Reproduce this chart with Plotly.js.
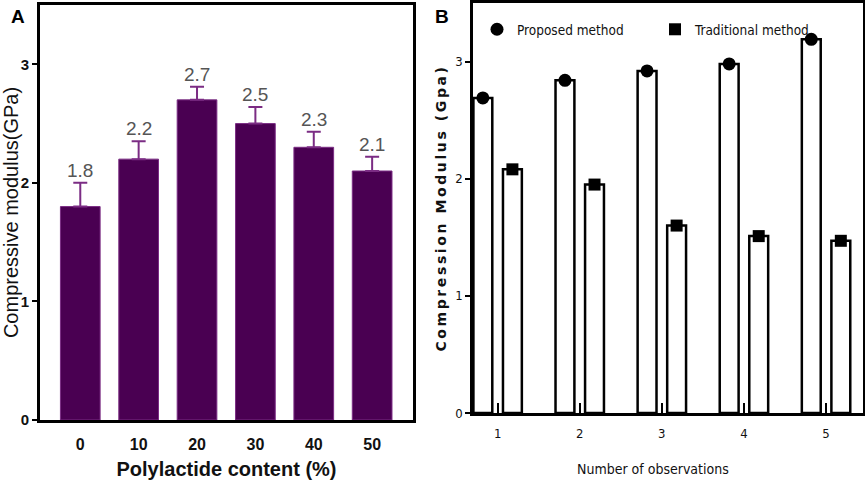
<!DOCTYPE html>
<html>
<head>
<meta charset="utf-8">
<script src="https://cdn.plot.ly/plotly-3.0.1.min.js"></script>
<style>
  html, body { margin: 0; padding: 0; background: #fff; overflow: hidden; }
  #chart { width: 865px; height: 481px; }
</style>
</head>
<body>
<div id="chart"></div>
<script>
// panel A: compressive modulus vs polylactide content
const contentLabels = ['0', '10', '20', '30', '40', '50'];
const modulusA = [1.8, 2.2, 2.7, 2.5, 2.3, 2.1];
const errorA = [0.2, 0.15, 0.11, 0.14, 0.13, 0.12];

// panel B: proposed vs traditional method
const observations = [1, 2, 3, 4, 5];
const proposed = [2.69, 2.84, 2.92, 2.98, 3.19];
const traditional = [2.08, 1.95, 1.60, 1.51, 1.47];

const purple = '#4a0052';
const purpleLight = '#7b2c84';
const narrow = '"DejaVu Sans Condensed", "Liberation Sans Narrow", "Liberation Sans", sans-serif';
const arial = 'Liberation Sans, Arial, sans-serif';
const shift = 0.18;

const traces = [
  {
    type: 'bar',
    x: contentLabels,
    y: modulusA,
    width: 0.68,
    marker: { color: purple, line: { color: purpleLight, width: 1 } },
    error_y: {
      type: 'data',
      symmetric: false,
      array: errorA,
      arrayminus: errorA.map(() => 0),
      color: purpleLight,
      thickness: 2,
      width: 7
    },
    xaxis: 'x',
    yaxis: 'y',
    showlegend: false,
    hoverinfo: 'x+y'
  },
  {
    type: 'bar',
    x: observations,
    y: proposed,
    width: 0.23,
    offset: -shift - 0.115,
    marker: { color: '#fff', line: { color: '#000', width: 2.5 } },
    xaxis: 'x2',
    yaxis: 'y2',
    showlegend: false
  },
  {
    type: 'bar',
    x: observations,
    y: traditional,
    width: 0.23,
    offset: shift - 0.115,
    marker: { color: '#fff', line: { color: '#000', width: 2.5 } },
    xaxis: 'x2',
    yaxis: 'y2',
    showlegend: false
  },
  {
    type: 'scatter',
    mode: 'markers',
    name: 'Proposed method',
    x: observations.map(v => v - shift),
    y: proposed,
    marker: { symbol: 'circle', size: 13, color: '#000' },
    xaxis: 'x2',
    yaxis: 'y2'
  },
  {
    type: 'scatter',
    mode: 'markers',
    name: 'Traditional method',
    x: observations.map(v => v + shift),
    y: traditional,
    marker: { symbol: 'square', size: 12, color: '#000' },
    xaxis: 'x2',
    yaxis: 'y2'
  }
];

// value labels above the error bars (category axis: use index position)
const annotations = modulusA.map((v, i) => ({
  x: i,
  y: v + errorA[i],
  xref: 'x',
  yref: 'y',
  text: v.toFixed(1),
  showarrow: false,
  yanchor: 'bottom',
  yshift: 0,
  font: { family: arial, size: 19, color: '#555' }
}));

annotations.push(
  {
    x: 18 / 865, y: 1 - 17 / 481, xref: 'paper', yref: 'paper',
    xanchor: 'center', yanchor: 'middle',
    text: '<b>A</b>', showarrow: false,
    font: { family: arial, size: 19, color: '#000' }
  },
  {
    x: 442 / 865, y: 1 - 16 / 481, xref: 'paper', yref: 'paper',
    xanchor: 'center', yanchor: 'middle',
    text: '<b>B</b>', showarrow: false,
    font: { family: arial, size: 19, color: '#000' }
  },
  {
    x: 653 / 865, y: 1 - 469 / 481, xref: 'paper', yref: 'paper',
    xanchor: 'center', yanchor: 'middle',
    text: 'Number of observations', showarrow: false,
    font: { family: narrow, size: 14, color: '#111' }
  }
);

const layout = {
  width: 865,
  height: 481,
  autosize: false,
  margin: { l: 0, r: 0, t: 0, b: 0 },
  paper_bgcolor: '#fff',
  plot_bgcolor: '#fff',
  barmode: 'overlay',
  showlegend: true,
  legend: {
    orientation: 'h',
    x: 477 / 865,
    y: 1 - 14 / 481,
    xanchor: 'left',
    yanchor: 'top',
    entrywidth: 133,
    entrywidthmode: 'pixels',
    bgcolor: 'rgba(0,0,0,0)',
    font: { family: narrow, size: 13.5, color: '#111' }
  },
  xaxis: {
    domain: [40 / 865, 413 / 865],
    type: 'category',
    range: [-0.69, 5.7],
    showline: true,
    mirror: true,
    linecolor: '#000',
    linewidth: 3,
    ticks: '',
    ticklabelstandoff: 8,
    showgrid: false,
    zeroline: false,
    tickfont: { family: arial, size: 16, color: '#111', weight: 'bold' },
    title: {
      text: '<b>Polylactide content (%)</b>',
      standoff: 10,
      font: { family: arial, size: 20, color: '#111' }
    },
    automargin: false
  },
  yaxis: {
    domain: [61 / 481, 476 / 481],
    range: [0, 3.5],
    tickvals: [0, 1, 2, 3],
    showline: true,
    mirror: true,
    linecolor: '#000',
    linewidth: 3,
    ticks: 'outside',
    ticklen: 5,
    tickwidth: 2,
    tickcolor: '#000',
    showgrid: false,
    zeroline: false,
    tickfont: { family: arial, size: 15, color: '#111', weight: 'bold' },
    title: {
      text: 'Compressive modulus(GPa)',
      standoff: 8,
      font: { family: arial, size: 20, color: '#111' }
    },
    automargin: false
  },
  xaxis2: {
    domain: [473 / 865, 863 / 865],
    anchor: 'y2',
    range: [0.7, 5.45],
    tickmode: 'array',
    tickvals: observations,
    showline: true,
    mirror: true,
    linecolor: '#000',
    linewidth: 2.5,
    ticks: 'inside',
    ticklen: 10,
    tickwidth: 2,
    tickcolor: '#000',
    ticklabelstandoff: 7,
    showgrid: false,
    zeroline: false,
    tickfont: { family: narrow, size: 13, color: '#111' },
    automargin: false
  },
  yaxis2: {
    domain: [68 / 481, 478 / 481],
    anchor: 'x2',
    range: [0, 3.5],
    tickvals: [0, 1, 2, 3],
    showline: true,
    mirror: true,
    linecolor: '#000',
    linewidth: 2.5,
    ticks: 'outside',
    ticklen: 5,
    tickwidth: 2,
    tickcolor: '#000',
    showgrid: false,
    zeroline: false,
    tickfont: { family: narrow, size: 13, color: '#111' },
    title: {
      text: '<b><span style="letter-spacing:2.6px">Compression Modulus (Gpa)</span></b>',
      standoff: 6,
      font: { family: 'DejaVu Sans, sans-serif', size: 14, color: '#111' }
    },
    automargin: false
  },
  annotations: annotations
};

Plotly.newPlot('chart', traces, layout, { displayModeBar: false, responsive: false });
</script>
</body>
</html>
